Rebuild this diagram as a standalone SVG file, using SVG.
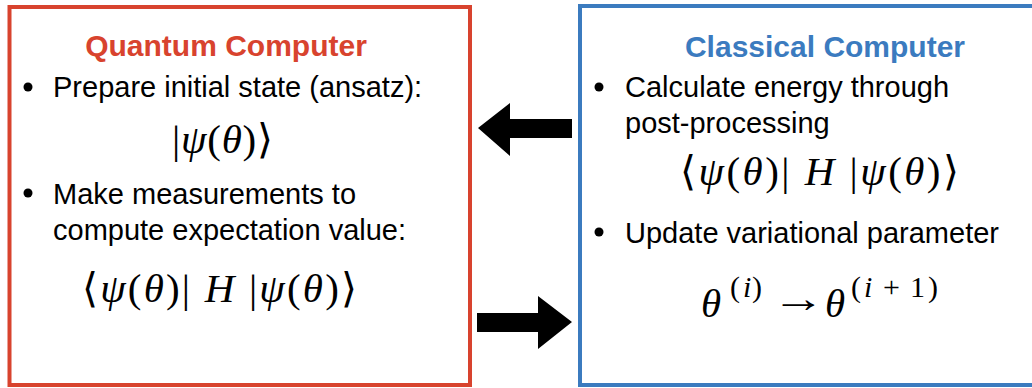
<svg xmlns="http://www.w3.org/2000/svg" width="1032" height="388" viewBox="0 0 1032 388">
<style>
.box{fill:#ffffff;stroke-width:4}
.title{font-family:"Liberation Sans",Arial,sans-serif;font-size:30px;font-weight:bold;text-anchor:middle}
.txt{font-family:"Liberation Sans",Arial,sans-serif;font-size:29px;fill:#000}
.math{font-family:"Liberation Serif","DejaVu Serif",serif;font-size:41px;fill:#000}
.it{font-style:italic}
.sup{font-size:30px}
.arrow{fill:#000}
</style>
<rect x="0" y="0" width="1032" height="388" fill="#ffffff"/>
<g id="quantum">
<rect class="box" x="9.5" y="7" width="460.5" height="378" stroke="#d8432e"/>
<text class="title" x="226" y="56" fill="#d8432e">Quantum Computer</text>
<circle cx="28" cy="87" r="4.5" fill="#000"/>
<text class="txt" x="53" y="97">Prepare initial state (ansatz):</text>
<text class="math" x="172" y="153" textLength="101" lengthAdjust="spacing">|<tspan class="it">ψ</tspan>(<tspan class="it">θ</tspan>)⟩</text>
<circle cx="28" cy="193" r="4.5" fill="#000"/>
<text class="txt" x="53" y="204">Make measurements to</text>
<text class="txt" x="53" y="240">compute expectation value:</text>
<text class="math" x="82" y="302" textLength="275" lengthAdjust="spacing">⟨<tspan class="it">ψ</tspan>(<tspan class="it">θ</tspan>)| <tspan class="it">H</tspan> |<tspan class="it">ψ</tspan>(<tspan class="it">θ</tspan>)⟩</text>
</g>
<g id="classical">
<rect class="box" x="580" y="6" width="500" height="379" stroke="#3b7bbf"/>
<text class="title" x="825" y="57" fill="#3b7bbf">Classical Computer</text>
<circle cx="599" cy="87" r="4.5" fill="#000"/>
<text class="txt" x="625" y="97">Calculate energy through</text>
<text class="txt" x="625" y="133">post-processing</text>
<text class="math" x="680" y="185" textLength="279" lengthAdjust="spacing">⟨<tspan class="it">ψ</tspan>(<tspan class="it">θ</tspan>)| <tspan class="it">H</tspan> |<tspan class="it">ψ</tspan>(<tspan class="it">θ</tspan>)⟩</text>
<circle cx="599" cy="232" r="4.5" fill="#000"/>
<text class="txt" x="625" y="243">Update variational parameter</text>
<text class="math it" x="701" y="317" font-size="46">θ</text>
<text class="math sup" y="297"><tspan x="730">(</tspan><tspan class="it" x="743">i</tspan><tspan x="752">)</tspan></text>
<text class="math" x="0" y="0" transform="translate(772,312) scale(1.3,1)">→</text>
<text class="math it" x="825" y="317" font-size="46">θ</text>
<text class="math sup" y="297"><tspan x="851">(</tspan><tspan class="it" x="864">i</tspan><tspan x="883">+</tspan><tspan x="910">1</tspan><tspan x="928">)</tspan></text>
</g>
<g id="connectors">
<polygon class="arrow" points="478,128 510,103 510,119 572,119 572,138 510,138 510,156"/>
<polygon class="arrow" points="477,313 538,313 538,296 572,322 538,349 538,332 477,332"/>
</g>
</svg>
